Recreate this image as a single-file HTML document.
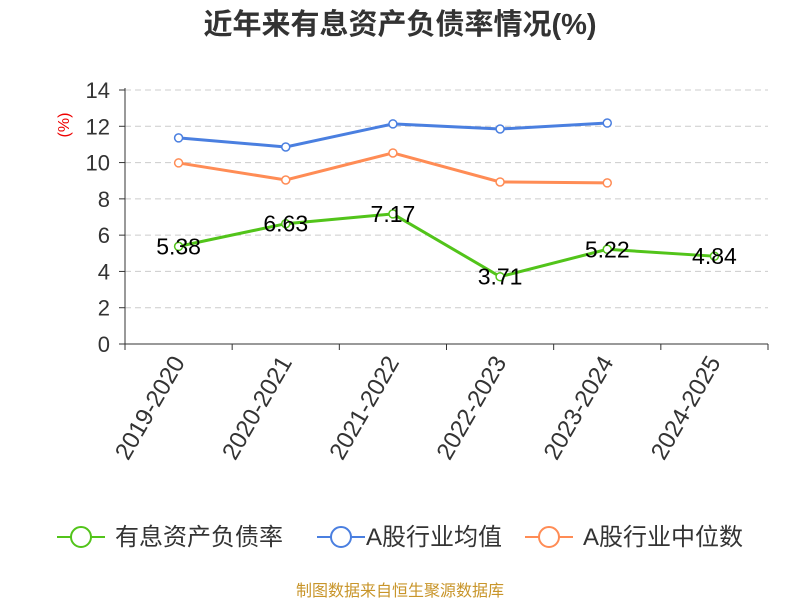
<!DOCTYPE html>
<html><head><meta charset="utf-8"><style>
body{margin:0;background:#fff;}
svg text{font-family:"Liberation Sans","Noto Sans CJK SC",sans-serif;}
</style></head><body>
<svg id="chart" width="800" height="600">
<text x="400" y="34" text-anchor="middle" font-size="29" font-weight="bold" fill="#333">近年来有息资产负债率情况(%)</text>
<text transform="translate(69,125) rotate(-90)" text-anchor="middle" font-size="16" fill="#e00">(%)</text>
<g id="grid"></g><g id="axes"></g><g id="series"></g>
<g>
<g><line x1="57" y1="537" x2="105" y2="537" stroke="#52c41a" stroke-width="2"/><circle cx="81" cy="537" r="10" fill="#fff" stroke="#52c41a" stroke-width="2"/><text x="115" y="545" font-size="24" fill="#333">有息资产负债率</text></g>
<g><line x1="317" y1="537" x2="365" y2="537" stroke="#4a7fe0" stroke-width="2"/><circle cx="341" cy="537" r="10" fill="#fff" stroke="#4a7fe0" stroke-width="2"/><text x="366" y="545" font-size="24" fill="#333">A股行业均值</text></g>
<g><line x1="525" y1="537" x2="573" y2="537" stroke="#ff8c55" stroke-width="2"/><circle cx="549" cy="537" r="10" fill="#fff" stroke="#ff8c55" stroke-width="2"/><text x="583" y="545" font-size="24" fill="#333">A股行业中位数</text></g>
</g>
<text x="400" y="596" text-anchor="middle" font-size="16" fill="#c8952a">制图数据来自恒生聚源数据库</text>
</svg>
<script>
const categories=["2019-2020","2020-2021","2021-2022","2022-2023","2023-2024","2024-2025"];
const debtRatio=[5.38,6.63,7.17,3.71,5.22,4.84];
const industryAvg=[11.36,10.86,12.13,11.85,12.18];
const industryMedian=[9.98,9.04,10.53,8.93,8.88];
const yTicks=[0,2,4,6,8,10,12,14];
const NS="http://www.w3.org/2000/svg";
const L=125,R=768,T=90,B=344,yMax=14;
const band=(R-L)/categories.length;
const xS=i=>L+band*(i+0.5);
const yS=v=>B-(v/yMax)*(B-T);
function mk(tag,attrs,parent){const e=document.createElementNS(NS,tag);for(const k in attrs)e.setAttribute(k,attrs[k]);parent.appendChild(e);return e;}
const grid=document.getElementById('grid'),axes=document.getElementById('axes'),ser=document.getElementById('series');
yTicks.forEach(t=>{
 const y=yS(t);
 if(t>0){const g=mk('line',{x1:L,x2:R,y1:y,y2:y,stroke:'#ccc','stroke-dasharray':'6,4'},grid);
 
 }
 mk('line',{x1:L-6,x2:L,y1:y,y2:y,stroke:'#333'},axes);
 const tx=mk('text',{x:L-15,y:y+8,'text-anchor':'end','font-size':22,fill:'#333'},axes);
 tx.textContent=t;
 
 
});
const ya=mk('line',{x1:L,x2:L,y1:T-2,y2:B,stroke:'#333'},axes);


const xa=mk('line',{x1:L,x2:R,y1:B,y2:B,stroke:'#333'},axes);


for(let i=0;i<=categories.length;i++){mk('line',{x1:L+band*i,x2:L+band*i,y1:B,y2:B+6,stroke:'#333'},axes);}
categories.forEach((c,i)=>{
 const x=xS(i),y=B+14;
 const t=mk('text',{x:x,y:y,'text-anchor':'end','font-size':24,fill:'#333',transform:`rotate(-60 ${x} ${y}) translate(0 8)`},axes);
 t.textContent=c;
 
 
});
function drawSeries(vals,color,name,labels){
 const pts=vals.map((v,i)=>xS(i)+','+yS(v)).join(' ');
 const pl=mk('polyline',{points:pts,fill:'none',stroke:color,'stroke-width':3},ser);
 
 
 vals.forEach((v,i)=>{
  const c=mk('circle',{cx:xS(i),cy:yS(v),r:4,fill:'#fff',stroke:color,'stroke-width':1.5},ser);
  
  
  if(labels){const t=mk('text',{x:xS(i),y:yS(v)+8,'text-anchor':'middle','font-size':23,fill:'#000'},ser);
  t.textContent=v.toFixed(2);
  
  }
 });
}
drawSeries(industryAvg,'#4a7fe0','industry-avg',false);
drawSeries(industryMedian,'#ff8c55','industry-median',false);
drawSeries(debtRatio,'#52c41a','debt-ratio',true);
</script>
</body></html>
